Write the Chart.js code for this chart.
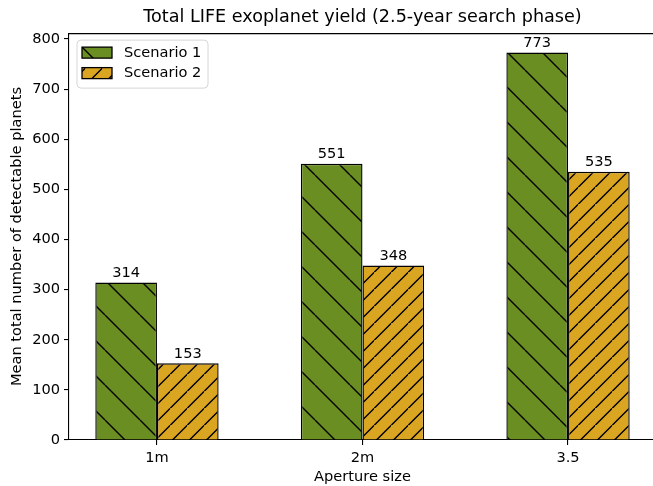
<!DOCTYPE html>
<html>
<head>
<meta charset="utf-8">
<script src="https://cdn.jsdelivr.net/npm/chart.js@4.4.1/dist/chart.umd.min.js"></script>
<style>
  html, body { margin: 0; padding: 0; overflow: hidden; background: #fff; }
  #wrap { position: absolute; left: 0; top: 0; width: 660px; height: 486px; }
</style>
</head>
<body>
<div id="wrap"><canvas id="c"></canvas></div>
<script>
// ---- data ----
const categories = ['1m', '2m', '3.5'];
const scenario1 = [314, 551, 773];
const scenario2 = [153, 348, 535];
const seriesNames = ['Scenario 1', 'Scenario 2'];
const yTicks = [0, 100, 200, 300, 400, 500, 600, 700, 800];

const FONT = 'DejaVu Sans';
const FS = 14.6;

function makeHatch(color, spacing, dir) {
  const c = document.createElement('canvas');
  const s = spacing;
  c.width = s; c.height = s;
  const g = c.getContext('2d');
  g.fillStyle = color;
  g.fillRect(0, 0, s, s);
  g.strokeStyle = '#000';
  g.lineWidth = 1.4;
  g.beginPath();
  for (let k = -1; k <= 2; k++) {
    if (dir === 'back') { // '\'
      g.moveTo(k * s, 0); g.lineTo(k * s + s, s);
    } else { // '/'
      g.moveTo(k * s, 0); g.lineTo(k * s - s, s);
    }
  }
  g.stroke();
  return g.createPattern(c, 'repeat');
}

const pat1 = makeHatch('#6b8e23', 35, 'back');
const pat2 = makeHatch('#daa520', 17.5, 'fwd');

const toPoints = arr => arr.map((v, i) => ({ x: i, y: v }));

const extras = {
  id: 'extras',
  afterDatasetsDraw(chart) {
    const ctx = chart.ctx;
    const ca = chart.chartArea;
    ctx.save();
    // bar value labels
    ctx.font = FS + 'px "' + FONT + '"';
    ctx.fillStyle = '#000';
    ctx.textAlign = 'center';
    ctx.textBaseline = 'alphabetic';
    chart.data.datasets.forEach((ds, di) => {
      const meta = chart.getDatasetMeta(di);
      meta.data.forEach((bar, i) => {
        ctx.fillText(String(ds.data[i].y), bar.x, bar.y - 5.5);
      });
    });
    // top spine
    ctx.strokeStyle = '#000';
    ctx.lineWidth = 1.1;
    ctx.beginPath();
    ctx.moveTo(ca.left, ca.top + 0.5);
    ctx.lineTo(ca.right, ca.top + 0.5);
    ctx.stroke();
    // legend inside plot
    const fx = ca.left + 8, fy = ca.top + 7, fw = 131, fh = 48, r = 4;
    ctx.beginPath();
    ctx.moveTo(fx + r, fy);
    ctx.arcTo(fx + fw, fy, fx + fw, fy + fh, r);
    ctx.arcTo(fx + fw, fy + fh, fx, fy + fh, r);
    ctx.arcTo(fx, fy + fh, fx, fy, r);
    ctx.arcTo(fx, fy, fx + fw, fy, r);
    ctx.closePath();
    ctx.fillStyle = 'rgba(255,255,255,0.8)';
    ctx.fill();
    ctx.strokeStyle = '#d6d6d6';
    ctx.lineWidth = 1;
    ctx.stroke();
    chart.data.datasets.forEach((ds, di) => {
      const py = fy + 7 + di * 20.5;
      ctx.fillStyle = ds.backgroundColor;
      ctx.fillRect(fx + 5, py, 30, 11);
      ctx.strokeStyle = '#000';
      ctx.lineWidth = 1.3;
      ctx.strokeRect(fx + 5, py, 30, 11);
      ctx.fillStyle = '#000';
      ctx.font = FS + 'px "' + FONT + '"';
      ctx.textAlign = 'left';
      ctx.textBaseline = 'middle';
      ctx.fillText(ds.label, fx + 47, py + 6);
    });
    ctx.restore();
  }
};

new Chart(document.getElementById('c'), {
  type: 'bar',
  data: {
    datasets: [
      { label: seriesNames[0], data: toPoints(scenario1), backgroundColor: pat1,
        borderColor: '#000', borderWidth: 1.4, categoryPercentage: 0.6, barPercentage: 1.0 },
      { label: seriesNames[1], data: toPoints(scenario2), backgroundColor: pat2,
        borderColor: '#000', borderWidth: 1.4, categoryPercentage: 0.6, barPercentage: 1.0 }
    ]
  },
  options: {
    responsive: true,
    maintainAspectRatio: false,
    animation: false,
    layout: { padding: { left: 0, right: 4, top: 0, bottom: 0 } },
    plugins: {
      legend: { display: false },
      tooltip: { enabled: false },
      title: {
        display: true,
        fullSize: false,
        text: 'Total LIFE exoplanet yield (2.5-year search phase)',
        color: '#000',
        font: { family: FONT, size: 17.6, weight: 'normal', lineHeight: 1.2 },
        padding: { top: 7, bottom: 5 }
      }
    },
    scales: {
      x: {
        type: 'linear',
        min: -0.428,
        max: 2.428,
        offset: false,
        afterBuildTicks: s => { s.ticks = categories.map((_, i) => ({ value: i })); },
        afterFit: s => { s.height = 46; },
        ticks: {
          callback: v => categories[v],
          color: '#000',
          font: { family: FONT, size: FS },
          padding: 4,
          maxRotation: 0
        },
        grid: { display: true, offset: false, drawOnChartArea: false, drawTicks: true, tickLength: 5, color: '#000', lineWidth: 1.1 },
        border: { display: true, color: '#000', width: 1.1 },
        title: {
          display: true, text: 'Aperture size', color: '#000',
          font: { family: FONT, size: FS, lineHeight: 1.2 },
          padding: { top: 0, bottom: 0 }
        }
      },
      y: {
        min: 0,
        max: 811.65,
        afterBuildTicks: s => { s.ticks = yTicks.map(v => ({ value: v })); },
        afterFit: s => { s.width = 69; },
        ticks: {
          color: '#000',
          font: { family: FONT, size: FS },
          padding: 4
        },
        grid: { display: true, offset: false, drawOnChartArea: false, drawTicks: true, tickLength: 5, color: '#000', lineWidth: 1.1 },
        border: { display: true, color: '#000', width: 1.1 },
        title: {
          display: true, text: 'Mean total number of detectable planets', color: '#000',
          font: { family: FONT, size: FS, lineHeight: 1.2 },
          padding: { top: 8, bottom: 0 }
        }
      }
    }
  },
  plugins: [extras]
});
</script>
</body>
</html>
